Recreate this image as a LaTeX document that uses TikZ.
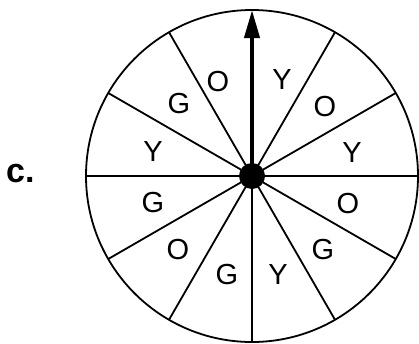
\documentclass[tikz,border=0pt]{standalone}
\usepackage{fontspec}
\setmainfont{Liberation Sans}
\usetikzlibrary{arrows.meta}
\begin{document}
\begin{tikzpicture}[x=1pt,y=-1pt,
  wedge/.style={line width=1.8pt},
  lbl/.style={inner sep=0pt,font=\fontsize{29}{29}\selectfont},
  pointer/.style={line width=4pt,-{Triangle[width=15pt,length=28pt]}}]
\useasboundingbox (0,0) rectangle (419,343);
\coordinate (c) at (252,176);
\draw[line width=1.8pt] (c) circle[radius=166];
\foreach \a in {0,30,60,120,150,180,210,240,270,300,330}
  \draw[wedge] (c) -- ++({166*cos(\a)},{-166*sin(\a)});
\coordinate (tip) at (252,10);
\draw[pointer] (c) -- (tip);
\fill (c) circle[radius=13];
\node[lbl] (l1) at (218,82) {O};
\node[lbl] (l2) at (282,80) {Y};
\node[lbl] (l3) at (325,107) {O};
\node[lbl] (l4) at (352,153) {Y};
\node[lbl] (l5) at (348,204) {O};
\node[lbl] (l6) at (323,250) {G};
\node[lbl] (l7) at (278,275) {Y};
\node[lbl] (l8) at (227,275) {G};
\node[lbl] (l9) at (178,250) {O};
\node[lbl] (l10) at (153,203) {G};
\node[lbl] (l11) at (153,152) {Y};
\node[lbl] (l12) at (179,104) {G};
\node[inner sep=0pt,anchor=base west,font=\fontsize{34}{34}\selectfont\bfseries] (lab) at (6,182) {c.};
\end{tikzpicture}
\end{document}
